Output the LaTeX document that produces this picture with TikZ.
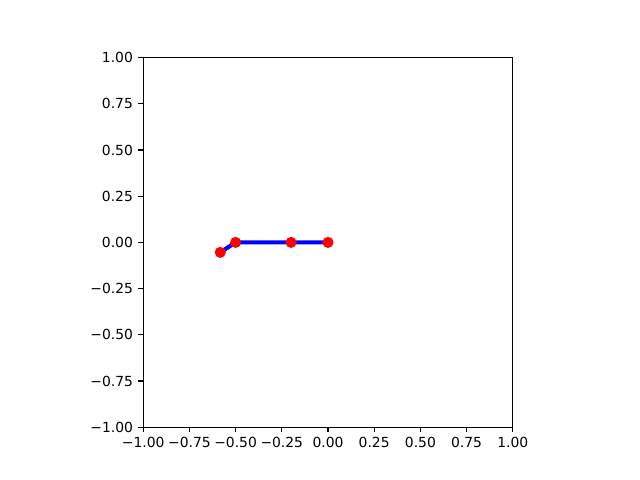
\documentclass[tikz,border=0pt]{standalone}
\usepackage{fontspec}
\setmainfont{DejaVu Sans}
\tikzset{
  spine/.style={line width=0.8pt, line cap=rect},
  tickmark/.style={line width=0.8pt},
  dot/.style={circle, fill=red, draw=none, minimum size=8pt, inner sep=0pt},
  link/.style={draw=blue, line width=3pt, line join=round, line cap=rect}
}
\begin{document}
\begin{tikzpicture}[x=0.72pt, y=-0.72pt, font=\fontsize{10}{12}\selectfont]
\useasboundingbox (0,0) rectangle (640,480);
\begin{scope}[shift={(328,242.4)}, x=133.056pt, y=133.056pt]
  \coordinate (c1) at (-0.583,-0.054);
  \coordinate (c2) at (-0.5,0);
  \coordinate (c3) at (-0.2,0);
  \coordinate (c4) at (0,0);
  \draw[link] (c1) -- (c2) -- (c3) -- (c4);
  \node[dot] (p1) at (c1) {};
  \node[dot] (p2) at (c2) {};
  \node[dot] (p3) at (c3) {};
  \node[dot] (p4) at (c4) {};
  \draw[spine] (-1,-1) rectangle (1,1);
  \foreach \v/\l in {-1/−1.00, -0.75/−0.75, -0.5/−0.50, -0.25/−0.25, 0/0.00, 0.25/0.25, 0.5/0.50, 0.75/0.75, 1/1.00} {
    \draw[tickmark] (\v,-1) -- ++(0,-3.5pt) node[anchor=north, inner sep=0pt, yshift=-3.5pt] {\l};
    \draw[tickmark] (-1,\v) -- ++(-3.5pt,0) node[anchor=east, inner sep=0pt, xshift=-3.5pt] {\l};
  }
\end{scope}
\end{tikzpicture}
\end{document}
